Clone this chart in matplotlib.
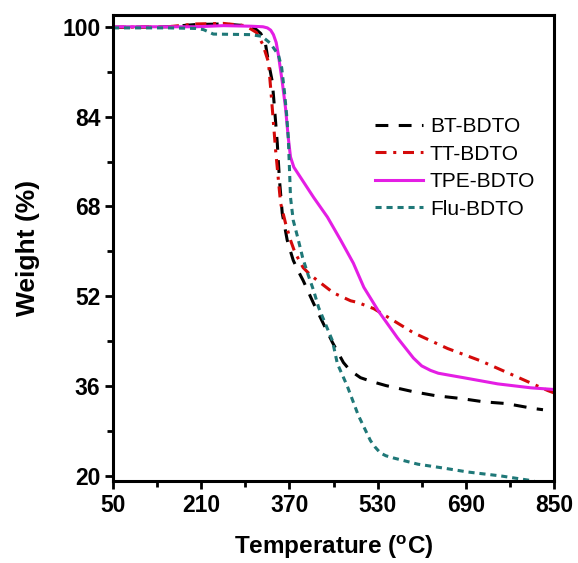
import numpy as np
import matplotlib
matplotlib.use("Agg")
import matplotlib.pyplot as plt
from matplotlib.ticker import MultipleLocator

plt.rcParams['font.family'] = ['Liberation Sans', 'DejaVu Sans']
plt.rcParams['mathtext.fontset'] = 'custom'
plt.rcParams['mathtext.rm'] = 'Liberation Sans:bold'
plt.rcParams['mathtext.bf'] = 'Liberation Sans:bold'

# TGA curves
bt_temp = [50, 150, 200, 250, 290, 310, 318, 326, 332, 339, 343, 348, 352, 357, 366, 372,
           377, 386, 395, 414, 448, 468, 480, 499, 520, 545, 595, 635, 681, 723, 763,
           814, 830]
bt_weight = [99.9, 100.0, 100.4, 100.5, 100.2, 99.5, 98.8, 97.3, 93.7, 90.2, 85.5, 79.3,
             72.7, 66.8, 62.0, 60.0, 58.4, 56.5, 54.8, 50.7, 43.8, 40.2, 38.8, 37.5, 36.8,
             36.1, 35.0, 34.3, 33.8, 33.2, 32.9, 32.0, 31.8]

tt_temp = [50, 150, 200, 250, 290, 310, 322, 332, 337, 345, 354, 363, 372, 380, 385, 395,
           408, 421, 450, 481, 494, 523, 535, 595, 657, 717, 777, 839, 850]
tt_weight = [99.9, 100.0, 100.5, 100.6, 100.2, 99.0, 96.8, 93.7, 87.9, 78.0, 68.6, 65.0,
             62.0, 59.8, 58.9, 57.1, 55.8, 54.8, 52.6, 51.2, 50.9, 49.8, 49.1, 45.5,
             42.7, 40.5, 37.9, 35.2, 34.8]

tpe_temp = [50, 200, 250, 300, 322, 330, 336, 341, 346, 350, 357, 363, 368, 372, 378,
            390, 414, 439, 463, 486, 505, 532, 566, 595, 610, 626, 640, 657, 686, 748,
            808, 850]
tpe_weight = [100.0, 100.0, 100.2, 100.1, 100.0, 99.8, 99.4, 98.6, 97.2, 95.0, 90.2,
              85.5, 80.2, 76.8, 75.0, 73.2, 69.6, 66.1, 62.0, 57.9, 53.6, 49.3, 44.6,
              41.0, 39.6, 38.8, 38.3, 38.0, 37.5, 36.4, 35.7, 35.4]

flu_temp = [50, 150, 200, 214, 232, 299, 320, 335, 350, 356, 361, 365, 368, 370, 372,
            377, 385, 394, 403, 414, 423, 448, 457, 475, 495, 517, 525, 535, 545, 559,
            603, 650, 694, 754, 814]
flu_weight = [99.8, 99.8, 99.7, 99.5, 98.7, 98.6, 98.3, 97.1, 95.0, 92.7, 88.4, 84.3,
              80.2, 75.0, 69.6, 65.5, 62.5, 58.9, 56.1, 53.0, 50.0, 44.1, 40.0, 36.0,
              30.8, 26.3, 25.2, 24.1, 23.6, 23.2, 22.1, 21.4, 20.7, 20.0, 19.1]

fig = plt.figure(figsize=(5.78, 5.63), dpi=100)
ax = fig.add_axes([0.1955, 0.1456, 0.763, 0.8278])

ax.plot(bt_temp, bt_weight, color='black', lw=2.2, dashes=(4.2, 3.4), label='BT-BDTO')
ax.plot(tt_temp, tt_weight, color='#d40a0a', lw=2.2, dashes=(3.6, 2.2, 1.0, 2.2),
        label='TT-BDTO')
ax.plot(tpe_temp, tpe_weight, color='#e41ee4', lw=2.2, label='TPE-BDTO')
ax.plot(flu_temp, flu_weight, color='#1f7878', lw=2.2, dashes=(2.0, 1.6), label='Flu-BDTO')

ax.set_xlim(50, 850)
ax.set_ylim(19.1, 102.1)
ax.xaxis.set_major_locator(MultipleLocator(160, offset=50))
ax.xaxis.set_minor_locator(MultipleLocator(80, offset=50))
ax.yaxis.set_major_locator(MultipleLocator(16, offset=4))
ax.yaxis.set_minor_locator(MultipleLocator(8, offset=4))

for s in ax.spines.values():
    s.set_linewidth(2.2)
ax.tick_params(which='major', length=6, width=2, direction='out', labelsize=16.5, pad=3)
ax.tick_params(which='minor', length=4, width=2, direction='out')
for lab in ax.get_xticklabels() + ax.get_yticklabels():
    lab.set_fontweight('bold')

ax.set_xlabel(r'Temperature ($^{\mathrm{o}}$C)', fontsize=17.5, fontweight='bold', labelpad=12)
ax.set_ylabel('Weight (%)', fontsize=19, fontweight='bold', labelpad=16)

ax.legend(loc='upper left', bbox_to_anchor=(0.594, 0.781), frameon=False, fontsize=15,
          handlelength=2.3, handletextpad=0.33, labelspacing=0.41, borderaxespad=0,
          borderpad=0)

fig.savefig('out.png', dpi=100)
